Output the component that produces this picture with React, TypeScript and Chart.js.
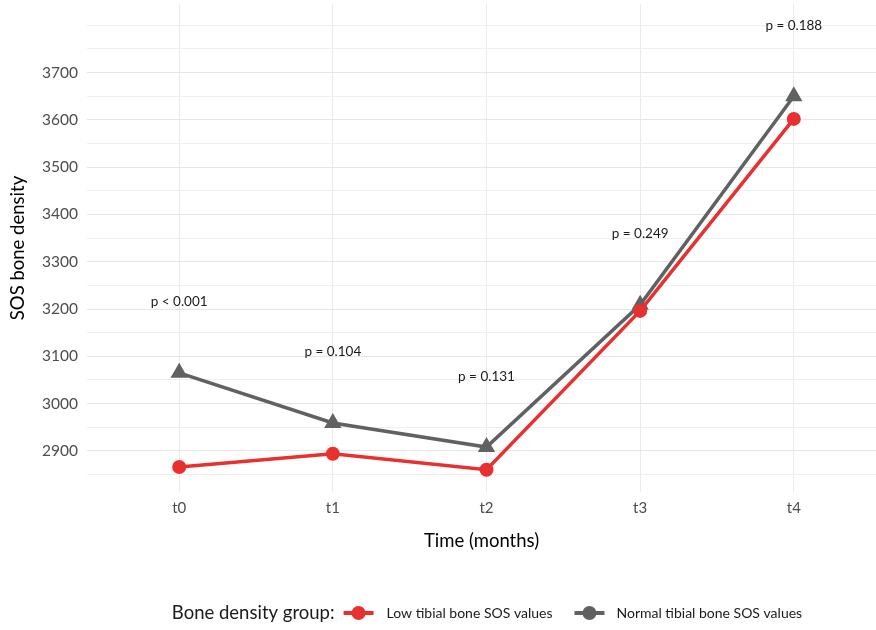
import React, { useEffect, useRef } from "react";
import { Chart, registerables } from "chart.js";

Chart.register(...registerables);

const CATEGORIES = ["t0", "t1", "t2", "t3", "t4"];
const LOW_SOS = [2866, 2894, 2860, 3196, 3602];
const NORMAL_SOS = [3065, 2959, 2908, 3209, 3650];
const P_LABELS = ["p < 0.001", "p = 0.104", "p = 0.131", "p = 0.249", "p = 0.188"];
const P_LABEL_Y = [3215, 3109, 3058, 3359, 3800];
const Y_GRID = [2850, 2900, 2950, 3000, 3050, 3100, 3150, 3200, 3250, 3300, 3350, 3400, 3450, 3500, 3550, 3600, 3650, 3700, 3750, 3800];
const Y_TICK_LABELS = [2900, 3000, 3100, 3200, 3300, 3400, 3500, 3600, 3700];
const SERIES_NAMES = ["Low tibial bone SOS values", "Normal tibial bone SOS values"];
const LEGEND_TITLE = "Bone density group:";

const RED = "#e8302f";
const GRAY = "#616161";
const FONT = "Lato, 'Open Sans', sans-serif";

const annotationPlugin = {
  id: "pAnnotations",
  afterDatasetsDraw(chart: any) {
    const ctx = chart.ctx;
    const xs = chart.scales.x;
    const ys = chart.scales.y;
    ctx.save();
    ctx.font = `13.5px ${FONT}`;
    ctx.fillStyle = "#1a1a1a";
    ctx.textAlign = "center";
    ctx.textBaseline = "middle";
    P_LABELS.forEach((t, i) => {
      ctx.fillText(t, xs.getPixelForValue(i), ys.getPixelForValue(P_LABEL_Y[i]));
    });
    ctx.restore();
  },
};

const legendPlugin = {
  id: "customLegend",
  afterDraw(chart: any) {
    const ctx = chart.ctx;
    const y = 613;
    const colors = [RED, GRAY];
    ctx.save();
    ctx.font = `18.5px ${FONT}`;
    const titleW = ctx.measureText(LEGEND_TITLE).width;
    ctx.font = `14px ${FONT}`;
    const labelWs = SERIES_NAMES.map((s) => ctx.measureText(s).width);
    const symW = 30;
    const total = titleW + 9 + symW + 13 + labelWs[0] + 22 + symW + 12 + labelWs[1];
    let x = 487 - total / 2;
    ctx.textBaseline = "middle";
    ctx.textAlign = "left";
    ctx.fillStyle = "#1a1a1a";
    ctx.font = `18.5px ${FONT}`;
    ctx.fillText(LEGEND_TITLE, x, y);
    x += titleW + 9;
    SERIES_NAMES.forEach((name, i) => {
      ctx.strokeStyle = colors[i];
      ctx.fillStyle = colors[i];
      ctx.lineWidth = 4;
      ctx.beginPath();
      ctx.moveTo(x, y);
      ctx.lineTo(x + symW, y);
      ctx.stroke();
      ctx.beginPath();
      ctx.arc(x + symW / 2, y, 7, 0, Math.PI * 2);
      ctx.fill();
      x += symW + (i === 0 ? 13 : 12);
      ctx.fillStyle = "#1a1a1a";
      ctx.font = `14px ${FONT}`;
      ctx.fillText(name, x, y);
      x += labelWs[i] + 22;
    });
    ctx.restore();
  },
};

export default function App() {
  const ref = useRef<HTMLCanvasElement | null>(null);
  useEffect(() => {
    document.body.style.margin = "0";
    const canvas = ref.current;
    if (!canvas) return;
    const chart = new Chart(canvas, {
      type: "line",
      data: {
        datasets: [
          {
            label: SERIES_NAMES[0],
            data: LOW_SOS.map((v, i) => ({ x: i, y: v })),
            borderColor: RED,
            backgroundColor: RED,
            borderWidth: 3.5,
            pointStyle: "circle",
            pointRadius: 7,
            pointBorderWidth: 0,
            tension: 0,
          },
          {
            label: SERIES_NAMES[1],
            data: NORMAL_SOS.map((v, i) => ({ x: i, y: v })),
            borderColor: GRAY,
            backgroundColor: GRAY,
            borderWidth: 3.5,
            pointStyle: "triangle",
            pointRadius: 10,
            pointBorderWidth: 0,
            tension: 0,
          },
        ],
      },
      options: {
        animation: false,
        responsive: false,
        layout: { autoPadding: false, padding: { left: 0, right: 0, top: 4, bottom: 70 } },
        plugins: { legend: { display: false }, tooltip: { enabled: false } },
        scales: {
          x: {
            type: "linear",
            min: -0.6,
            max: 4.535,
            afterBuildTicks: (scale: any) => {
              scale.ticks = CATEGORIES.map((_, i) => ({ value: i }));
            },
            afterFit: (scale: any) => {
              scale.height = 68;
              scale.paddingLeft = 0;
              scale.paddingRight = 0;
            },
            ticks: {
              callback: (v: any) => CATEGORIES[v as number] ?? "",
              color: "#4d4d4d",
              font: { family: FONT, size: 15 },
              padding: 7,
              maxRotation: 0,
            },
            grid: { color: "#ebebeb", lineWidth: 1, drawTicks: false },
            border: { display: false },
            title: {
              display: true,
              text: "Time (months)",
              color: "#000",
              font: { family: FONT, size: 18.5 },
              padding: { top: 0, bottom: 8 },
            },
          },
          y: {
            type: "linear",
            min: 2813,
            max: 3845,
            afterBuildTicks: (scale: any) => {
              scale.ticks = Y_GRID.map((v) => ({ value: v }));
            },
            afterFit: (scale: any) => {
              scale.width = 87;
              scale.paddingTop = 0;
              scale.paddingBottom = 0;
            },
            ticks: {
              callback: (v: any) => (Y_TICK_LABELS.includes(v as number) ? String(v) : ""),
              color: "#4d4d4d",
              font: { family: FONT, size: 15.5 },
              padding: 9,
              autoSkip: false,
            },
            grid: {
              color: (c: any) => (Y_TICK_LABELS.includes(c.tick?.value) ? "#e6e6e6" : "#efefef"),
              lineWidth: 1,
              drawTicks: false,
            },
            border: { display: false },
            title: {
              display: true,
              text: "SOS bone density",
              color: "#000",
              font: { family: FONT, size: 18.5 },
              padding: { top: 7, bottom: 0 },
            },
          },
        },
      },
      plugins: [annotationPlugin, legendPlugin],
    });
    return () => chart.destroy();
  }, []);
  return (
    <div style={{ width: 876, height: 630 }}>
      <canvas ref={ref} width={876} height={630} style={{ display: "block" }} />
    </div>
  );
}
